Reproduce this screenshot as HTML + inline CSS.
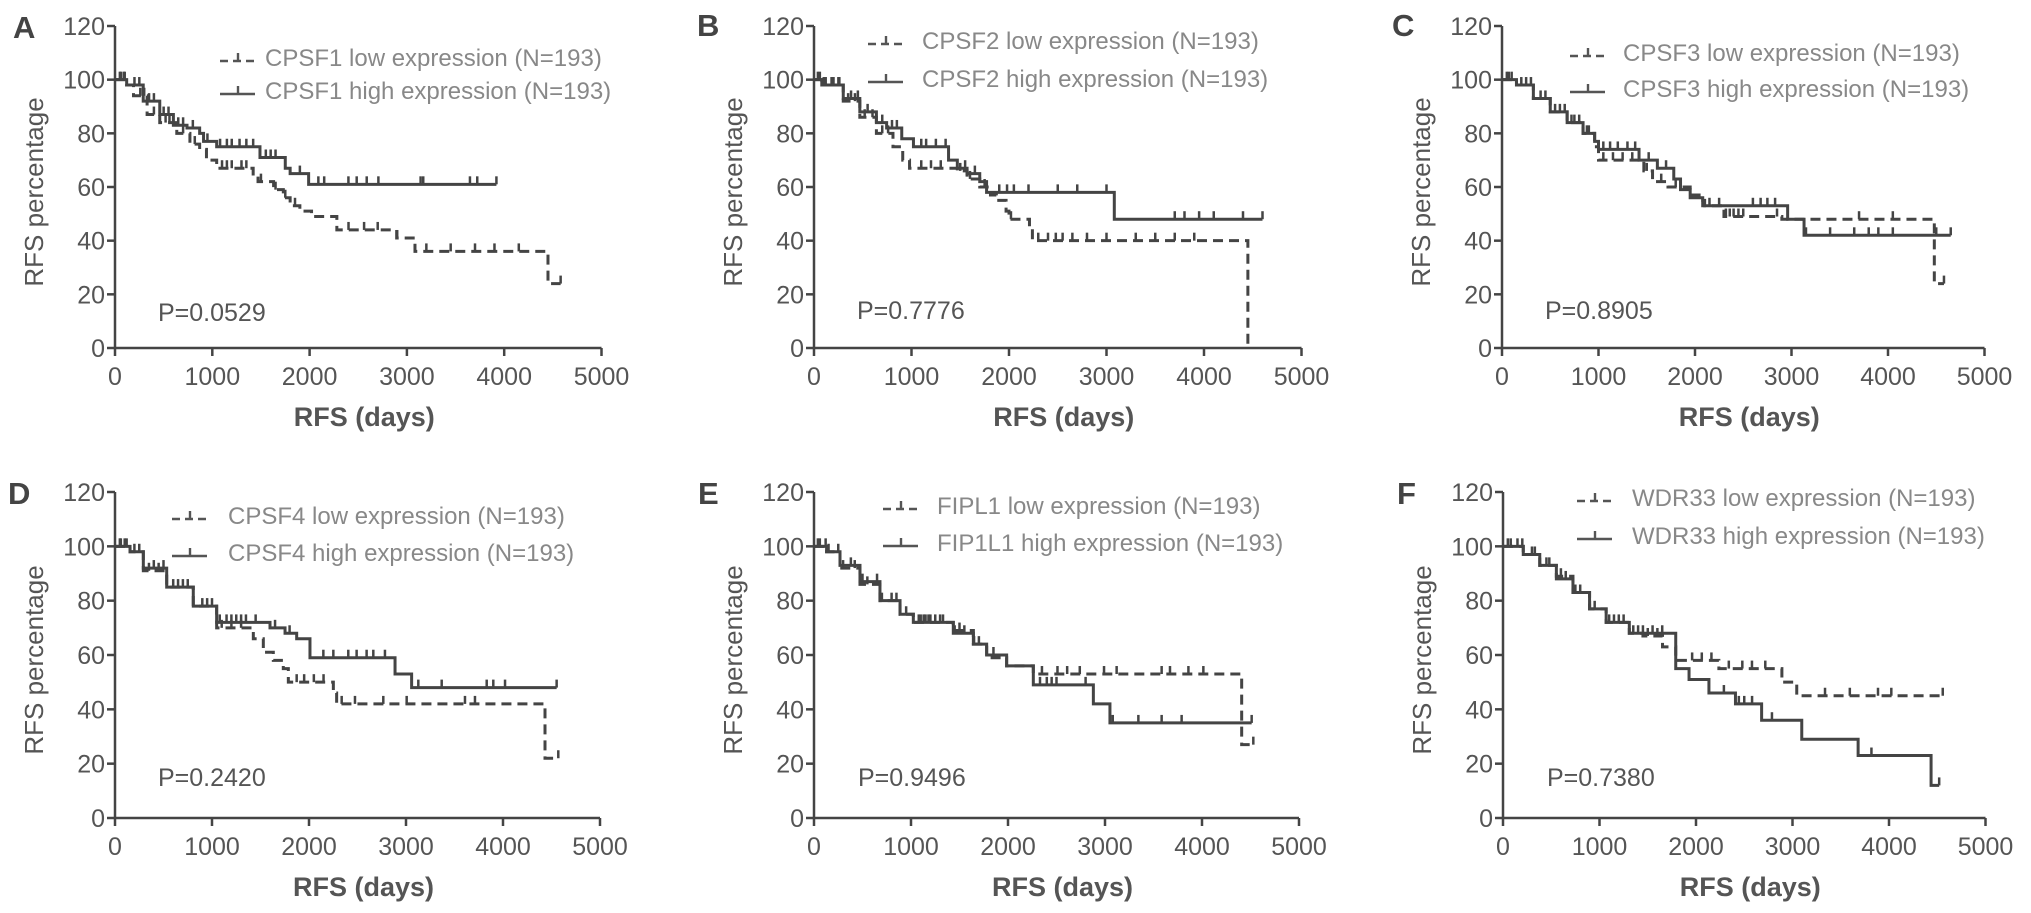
<!DOCTYPE html>
<html><head><meta charset="utf-8"><title>RFS Kaplan-Meier curves</title>
<style>
html,body{margin:0;padding:0;background:#fff;}
svg{display:block;font-family:"Liberation Sans",Arial,sans-serif;}
.tick{font-size:25px;fill:#555;}
.leg{font-size:24px;fill:#888;}
.pv{font-size:25px;fill:#555;}
.let{font-size:31px;font-weight:bold;fill:#444;}
.xt{font-size:27px;font-weight:bold;fill:#555;}
.yt{font-size:26px;fill:#555;}
</style></head>
<body>
<svg id="fig" width="2031" height="913" viewBox="0 0 2031 913" xmlns="http://www.w3.org/2000/svg"></svg>
<script>
// ---- Data (days, % RFS) ----
const xTicks = [0,1000,2000,3000,4000,5000];
const yTicks = [0,20,40,60,80,100,120];
const pValues = ["P=0.0529","P=0.7776","P=0.8905","P=0.2420","P=0.9496","P=0.7380"];
const panelLetters = ["A","B","C","D","E","F"];
const lowLabels = ["CPSF1 low expression (N=193)","CPSF2 low expression (N=193)","CPSF3 low expression (N=193)","CPSF4 low expression (N=193)","FIPL1  low expression (N=193)","WDR33  low expression (N=193)"];
const highLabels = ["CPSF1 high expression (N=193)","CPSF2  high expression (N=193)","CPSF3 high expression (N=193)","CPSF4  high expression (N=193)","FIP1L1  high expression (N=193)","WDR33  high expression (N=193)"];

// Panel A
const A_low_t = [0,120,190,330,460,635,770,870,940,1045,1420,1470,1630,1730,1800,1900,2020,2280,2895,3083,4450];
const A_low_s = [100,98,94,87,84,80,76,74,70,67,64,62,59,56,53,51,49,44,41,36,24];
const A_low_end = 4580;
const A_low_c = [60,100,260,300,400,520,560,700,820,1100,1150,1200,1300,1350,1500,1650,1750,1850,2400,2560,2700,2900,3200,3450,3700,3900,4150,4580];
const A_high_t = [0,120,290,460,600,740,870,910,1045,1490,1750,1800,1990];
const A_high_s = [100,98,92,87,83,82,80,77,75,71,67,65,61];
const A_high_end = 3920;
const A_high_c = [50,90,200,250,350,400,500,550,650,700,800,950,1080,1150,1200,1280,1350,1420,1550,1600,1650,1900,2090,2150,2399,2484,2587,2707,3141,3168,3648,3723,3920];
// Panel B
const B_low_t = [0,80,300,470,640,810,910,980,1470,1570,1700,1810,1870,1970,2000,2210,2240,4450];
const B_low_s = [100,98,92,86,80,75,70,67,66,63,60,57,55,51,48,45,40,0];
const B_low_end = 4450;
const B_low_c = [60,120,200,260,350,420,520,600,700,760,1100,1200,1300,1500,1600,1750,2020,2300,2400,2480,2550,2650,2800,3000,3300,3500,3700,3900];
const B_high_t = [0,80,300,470,640,745,900,1020,1380,1470,1570,1700,1770,3080];
const B_high_s = [100,98,93,88,84,82,78,75,70,67,65,62,58,48];
const B_high_end = 4600;
const B_high_c = [40,100,180,250,380,450,550,700,800,850,1100,1150,1250,1350,1550,1650,1900,1980,2050,2200,2500,2700,3000,3700,3800,3950,4100,4400,4600];
// Panel C
const C_low_t = [0,150,325,500,675,840,960,1000,1470,1560,1720,1950,2060,2100,2300,2900,4480];
const C_low_s = [100,98,93,88,84,80,75,70,66,62,60,57,55,53,49,48,24];
const C_low_end = 4580;
const C_low_c = [50,100,250,400,450,600,750,800,900,1050,1150,1250,1350,1500,1650,1800,2320,2360,2400,2450,2500,2850,3700,4050,4580];
const C_high_t = [0,150,325,500,675,840,960,1000,1420,1610,1780,1850,1950,2080,2960,3130];
const C_high_s = [100,98,93,88,84,80,77,74,70,67,63,59,56,53,48,42];
const C_high_end = 4650;
const C_high_c = [70,200,300,550,650,720,880,1050,1120,1200,1300,1380,1520,1700,2150,2250,2600,2680,2750,2830,3150,3400,3650,3800,3900,4050,4500,4650];
// Panel D
const D_low_t = [0,155,292,533,807,1048,1426,1529,1632,1735,1787,2251,2285,4433];
const D_low_s = [100,98,91,85,78,70,66,61,58,55,50,46,42,22];
const D_low_end = 4570;
const D_low_c = [60,120,200,350,450,600,700,900,1000,1100,1200,1300,1873,1950,2050,2150,2337,2474,2766,3007,3608,3711,4570];
const D_high_t = [0,155,292,533,807,1048,1598,1753,1873,2010,2887,3058];
const D_high_s = [100,98,92,85,78,72,70,68,66,59,53,48];
const D_high_end = 4553;
const D_high_c = [50,100,250,400,500,650,750,950,1080,1150,1200,1250,1300,1350,1450,1650,1800,2148,2251,2405,2491,2594,2663,2783,3127,3368,3832,3900,4021,4553];
// Panel E
const E_low_t = [0,130,268,474,680,887,1024,1436,1643,1780,1986,2261,4409];
const E_low_s = [100,98,92,86,80,75,72,69,64,59,56,53,27];
const E_low_end = 4529;
const E_low_c = [60,150,300,420,550,700,850,1100,1150,1200,1300,1500,1700,2350,2510,2610,2740,2990,3120,3584,3670,3860,4014,4529];
const E_high_t = [0,130,268,474,680,887,1024,1436,1643,1780,1986,2261,2880,3051];
const E_high_s = [100,98,93,87,80,75,72,68,64,60,56,49,42,35];
const E_high_end = 4512;
const E_high_c = [40,120,250,380,500,650,800,950,1080,1130,1180,1250,1330,1450,1550,1650,1850,2330,2400,2450,2500,2800,3080,3344,3584,3790,4512];
// Panel F
const F_low_t = [0,210,381,553,725,897,1069,1309,1450,1653,1790,2237,2890,3044];
const F_low_s = [100,97,93,89,83,77,72,68,67,63,58,55,50,45];
const F_low_end = 4557;
const F_low_c = [50,150,300,450,600,750,900,1150,1250,1400,1500,1600,1960,2060,2160,2340,2480,2580,2718,3337,3594,3886,4024,4557];
const F_high_t = [0,210,381,553,725,897,1069,1309,1790,1928,2134,2409,2680,3096,3680,4436];
const F_high_s = [100,97,93,88,83,77,72,68,55,51,46,42,36,29,23,12];
const F_high_end = 4520;
const F_high_c = [80,200,330,480,650,800,950,1100,1200,1350,1450,1550,1650,2289,2444,2500,2581,2787,3818,4520];

// ---- Layout (not data) ----
const layout = [
 {ox:115, y0:348, yTop:26, xs:0.0973, letX:13, letY:27, lx:220, tx:265, ly:[57,90], px:158, py:312},
 {ox:814, y0:348, yTop:26, xs:0.0975, letX:697, letY:25, lx:868, tx:922, ly:[40,78], px:857, py:310},
 {ox:1502, y0:348, yTop:26, xs:0.0965, letX:1392, letY:25, lx:1570, tx:1623, ly:[52,88], px:1545, py:310},
 {ox:115, y0:818, yTop:492, xs:0.097, letX:8, letY:493, lx:172, tx:228, ly:[515,552], px:158, py:777},
 {ox:814, y0:818, yTop:492, xs:0.097, letX:698, letY:493, lx:883, tx:937, ly:[505,542], px:858, py:777},
 {ox:1503, y0:818, yTop:492, xs:0.0965, letX:1397, letY:493, lx:1577, tx:1632, ly:[497,535], px:1547, py:777}
];
const series = [
 {lt:A_low_t, ls:A_low_s, le:A_low_end, lc:A_low_c, ht:A_high_t, hs:A_high_s, he:A_high_end, hc:A_high_c},
 {lt:B_low_t, ls:B_low_s, le:B_low_end, lc:B_low_c, ht:B_high_t, hs:B_high_s, he:B_high_end, hc:B_high_c},
 {lt:C_low_t, ls:C_low_s, le:C_low_end, lc:C_low_c, ht:C_high_t, hs:C_high_s, he:C_high_end, hc:C_high_c},
 {lt:D_low_t, ls:D_low_s, le:D_low_end, lc:D_low_c, ht:D_high_t, hs:D_high_s, he:D_high_end, hc:D_high_c},
 {lt:E_low_t, ls:E_low_s, le:E_low_end, lc:E_low_c, ht:E_high_t, hs:E_high_s, he:E_high_end, hc:E_high_c},
 {lt:F_low_t, ls:F_low_s, le:F_low_end, lc:F_low_c, ht:F_high_t, hs:F_high_s, he:F_high_end, hc:F_high_c}
];

const NS = "http://www.w3.org/2000/svg";
const svg = document.getElementById("fig");
function mk(tag, attrs, parent){
  const e = document.createElementNS(NS, tag);
  for (const k in attrs) e.setAttribute(k, attrs[k]);
  (parent||svg).appendChild(e);
  return e;
}
function stepVal(T,S,t){ let v=S[0]; for(let i=0;i<T.length;i++){ if(T[i]<=t) v=S[i]; } return v; }

layout.forEach((L, i) => {
  const d = series[i];
  const xp = t => L.ox + t*L.xs;
  const yp = v => L.y0 - v*(L.y0-L.yTop)/120;
  const g = mk("g", {});
  
  

  const ax = mk("path", {d:`M${L.ox},${yp(120)} V${L.y0} H${xp(5000)}`, fill:"none", stroke:"#444", "stroke-width":2.5}, g);
  
  
  yTicks.forEach(v => {
    mk("line", {x1:L.ox-8, x2:L.ox, y1:yp(v), y2:yp(v), stroke:"#444","stroke-width":2.5}, g);
    const t = mk("text", {x:L.ox-10, y:yp(v)+9, "text-anchor":"end", class:"tick"}, g);
    t.textContent = v;
    
    
  });
  xTicks.forEach(v => {
    mk("line", {x1:xp(v), x2:xp(v), y1:L.y0, y2:L.y0+8, stroke:"#444","stroke-width":2.5}, g);
    const t = mk("text", {x:xp(v), y:L.y0+37, "text-anchor":"middle", class:"tick"}, g);
    t.textContent = v;
    
    
  });
  const xt = mk("text", {x:xp(2500)+6, y:L.y0+78, "text-anchor":"middle", class:"xt", "xml:space":"preserve"}, g);
  xt.textContent = "RFS  (days)";
  
  
  const ym = (L.y0+L.yTop)/2 + 5;
  const yt = mk("text", {x:0, y:0, transform:`translate(${L.ox-72},${ym}) rotate(-90)`, "text-anchor":"middle", class:"yt"}, g);
  yt.textContent = "RFS percentage";
  
  

  const lt = mk("text", {x:L.letX, y:L.letY+11, class:"let"}, g);
  lt.textContent = panelLetters[i];
  
  

  const pv = mk("text", {x:L.px, y:L.py+9, class:"pv"}, g);
  pv.textContent = pValues[i];
  
  

  function curve(T,S,end,C,dashed,name){
    let p = `M${xp(T[0])},${yp(S[0])}`;
    for (let k=1;k<T.length;k++) p += ` H${xp(T[k])} V${yp(S[k])}`;
    p += ` H${xp(end)}`;
    const c = mk("path", {d:p, fill:"none", stroke:"#444", "stroke-width":3, "stroke-dasharray": dashed ? "10,6" : "none"}, g);
    
    
    C.forEach(t => {
      const v = stepVal(T,S,t);
      const m = mk("line", {x1:xp(t), x2:xp(t), y1:yp(v), y2:yp(v)-8, stroke:"#444","stroke-width":2.5}, g);
      
      
    });
  }
  curve(d.lt, d.ls, d.le, d.lc, true, 'low-expression-curve');
  curve(d.ht, d.hs, d.he, d.hc, false, 'high-expression-curve');

  [0,1].forEach(r => {
    const y = L.ly[r];
    const ln = mk("line", {x1:L.lx, x2:L.lx+35, y1:y+4, y2:y+4, stroke:"#555","stroke-width":2.4, "stroke-dasharray": r===0 ? "8,5" : "none"}, g);
    
    
    mk("line", {x1:L.lx+18, x2:L.lx+18, y1:y+4, y2:y-4, stroke:"#555","stroke-width":2.4}, g);
    const tx = mk("text", {x:L.tx, y:y+9, class:"leg", "xml:space":"preserve"}, g);
    tx.textContent = r===0 ? lowLabels[i] : highLabels[i];
    
    
  });
});
</script>
</body></html>
